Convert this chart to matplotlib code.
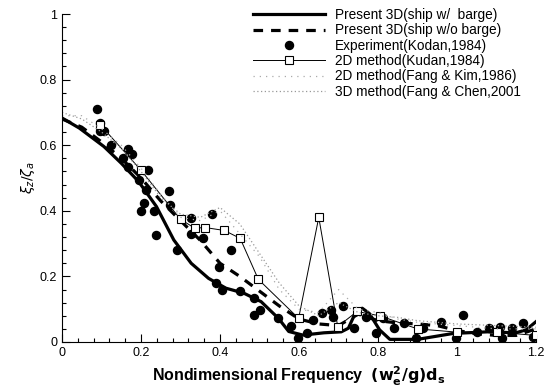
import numpy as np
import matplotlib.pyplot as plt
from matplotlib.ticker import MultipleLocator

plt.rcParams['font.family'] = ['Liberation Sans', 'DejaVu Sans']

# Present 3D (ship w/ barge)
x_with = [0, 0.044, 0.106, 0.15, 0.194, 0.239, 0.283, 0.327, 0.371, 0.415, 0.46, 0.504,
          0.548, 0.574, 0.61, 0.663, 0.707, 0.725, 0.742, 0.76, 0.778, 0.804, 0.83, 0.9,
          0.99, 1.078, 1.149, 1.175, 1.2]
y_with = [0.683, 0.652, 0.596, 0.545, 0.489, 0.413, 0.311, 0.24, 0.194, 0.164, 0.149, 0.123,
          0.072, 0.032, 0.021, 0.028, 0.031, 0.042, 0.087, 0.103, 0.087, 0.037, 0.008, 0.008,
          0.026, 0.031, 0.028, 0.037, 0.062]

# Present 3D (ship w/o barge)
x_without = [0, 0.05, 0.1, 0.15, 0.2, 0.25, 0.3, 0.35, 0.4, 0.45, 0.5, 0.55, 0.6, 0.65,
             0.7, 0.75, 0.8, 0.85, 0.9, 0.95, 1.0, 1.05, 1.1, 1.15, 1.2]
y_without = [0.68, 0.655, 0.61, 0.56, 0.5, 0.43, 0.37, 0.31, 0.24, 0.2, 0.155, 0.11, 0.07,
             0.055, 0.05, 0.085, 0.065, 0.058, 0.055, 0.05, 0.035, 0.025, 0.02, 0.02, 0.04]

# Experiment (Kodan, 1984)
x_exp = [0.088, 0.097, 0.097, 0.106, 0.124, 0.168, 0.155, 0.177, 0.168, 0.194, 0.199, 0.217,
         0.212, 0.208, 0.234, 0.239, 0.27, 0.274, 0.292, 0.327, 0.327, 0.358, 0.38, 0.398,
         0.389, 0.429, 0.406, 0.45, 0.486, 0.5, 0.486, 0.548, 0.579, 0.597, 0.619, 0.636,
         0.658, 0.68, 0.685, 0.711, 0.738, 0.769, 0.795, 0.813, 0.84, 0.866, 0.897, 0.915,
         0.959, 0.998, 1.016, 1.05, 1.082, 1.109, 1.113, 1.14, 1.166, 1.193]
y_exp = [0.711, 0.669, 0.642, 0.642, 0.601, 0.589, 0.561, 0.574, 0.535, 0.494, 0.398, 0.525,
         0.464, 0.423, 0.398, 0.327, 0.459, 0.418, 0.281, 0.377, 0.33, 0.316, 0.39, 0.23,
         0.179, 0.281, 0.159, 0.154, 0.133, 0.098, 0.082, 0.072, 0.049, 0.011, 0.026, 0.067,
         0.087, 0.098, 0.077, 0.111, 0.042, 0.077, 0.026, 0.072, 0.042, 0.057, 0.011, 0.042,
         0.062, 0.011, 0.082, 0.031, 0.042, 0.047, 0.011, 0.042, 0.057, 0.016]

# 2D method (Kodan, 1984)
x_2d = [0.097, 0.199, 0.30, 0.336, 0.362, 0.411, 0.451, 0.497, 0.599, 0.65, 0.698, 0.747,
        0.804, 0.9, 1.0, 1.1, 1.2]
y_2d = [0.662, 0.525, 0.374, 0.347, 0.349, 0.34, 0.316, 0.191, 0.072, 0.38, 0.047, 0.093,
        0.08, 0.04, 0.03, 0.03, 0.02]

# 2D method (Fang & Kim, 1986)
x_fk = [0, 0.05, 0.1, 0.15, 0.2, 0.25, 0.3, 0.35, 0.4, 0.45, 0.5, 0.55, 0.6, 0.65, 0.7,
        0.75, 0.8, 0.85, 0.9, 1.0, 1.1, 1.2]
y_fk = [0.69, 0.69, 0.65, 0.6, 0.53, 0.45, 0.38, 0.37, 0.40, 0.33, 0.26, 0.16, 0.1, 0.09,
        0.16, 0.1, 0.09, 0.07, 0.06, 0.05, 0.04, 0.04]

# 3D method (Fang & Chen, 2001)
x_fc = [0, 0.05, 0.1, 0.15, 0.2, 0.25, 0.3, 0.35, 0.4, 0.45, 0.5, 0.55, 0.6, 0.65, 0.7,
        0.75, 0.8, 0.85, 0.9, 1.0, 1.1, 1.2]
y_fc = [0.70, 0.68, 0.64, 0.59, 0.52, 0.44, 0.39, 0.38, 0.41, 0.36, 0.27, 0.18, 0.11, 0.08,
        0.12, 0.09, 0.08, 0.075, 0.065, 0.055, 0.05, 0.045]

fig = plt.figure(figsize=(5.46, 3.87), dpi=100)
ax = fig.add_axes([0.1136, 0.1163, 0.8681, 0.8475])

ax.plot(x_with, y_with, color='black', lw=2.3, label='Present 3D(ship w/  barge)')
ax.plot(x_without, y_without, color='black', lw=2.3, ls=(0, (3, 2.5)),
        label='Present 3D(ship w/o barge)')
ax.plot(x_exp, y_exp, 'o', color='black', ms=5.8, ls='none', label='Experiment(Kodan,1984)')
ax.plot(x_2d, y_2d, color='black', lw=0.7, marker='s', ms=6, mfc='white', mec='black',
        mew=0.8, label='2D method(Kudan,1984)')
ax.plot(x_fk, y_fk, color='#aaaaaa', lw=0.9, ls=(0, (1, 4)), label='2D method(Fang & Kim,1986)')
ax.plot(x_fc, y_fc, color='#999999', lw=0.9, ls=(0, (1, 2)),
        label='3D method(Fang & Chen,2001')

ax.set_xlim(0, 1.2)
ax.set_ylim(0, 1)
ax.xaxis.set_minor_locator(MultipleLocator(0.04))
ax.yaxis.set_minor_locator(MultipleLocator(0.04))
ax.set_xticks([0, 0.2, 0.4, 0.6, 0.8, 1.0, 1.2])
ax.set_xticklabels(['0', '0.2', '0.4', '0.6', '0.8', '1', '1.2'])
ax.set_yticks([0, 0.2, 0.4, 0.6, 0.8, 1.0])
ax.set_yticklabels(['0', '0.2', '0.4', '0.6', '0.8', '1'])
ax.tick_params(which='both', direction='in', labelsize=9, width=0.8)
ax.tick_params(which='major', length=6)
ax.tick_params(which='minor', length=3)
ax.spines['top'].set_visible(False)
ax.spines['right'].set_visible(False)

ax.set_xlabel(r'Nondimensional Frequency  $\mathbf{(w_e^2/g)d_s}$', fontsize=11.5,
              fontweight='bold', labelpad=4)
ax.set_ylabel(r'$\xi_z/\zeta_a$', fontsize=10, labelpad=2)

ax.legend(loc='upper left', bbox_to_anchor=(253 / 546, 1 - 8 / 387),
          bbox_transform=fig.transFigure, frameon=False, fontsize=9.8,
          handlelength=5.3, handletextpad=0.7, labelspacing=0.1, borderpad=0,
          borderaxespad=0)

plt.savefig('out.png', dpi=100)
